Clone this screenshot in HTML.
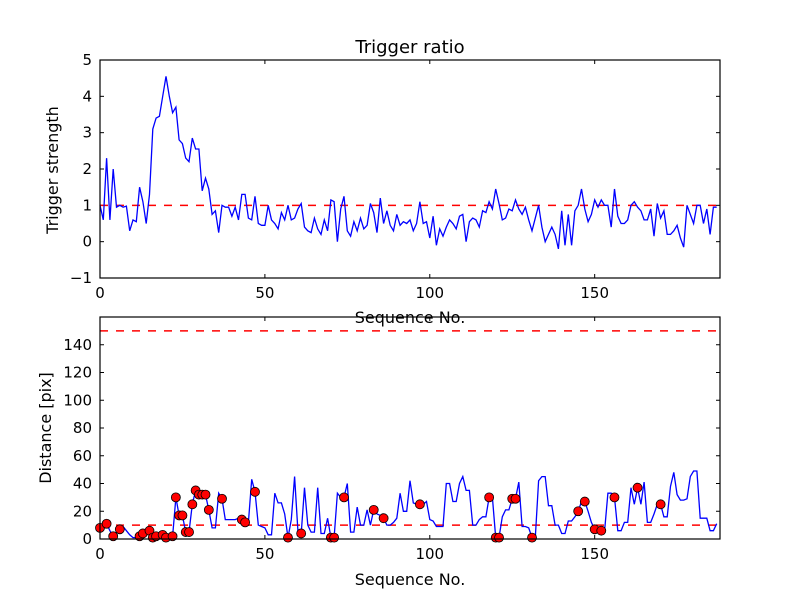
<!DOCTYPE html>
<html><head><meta charset="utf-8"><style>
body{margin:0;background:#fff}
svg{font-family:"DejaVu Sans","Liberation Sans",sans-serif}
</style></head><body>
<svg id="c" width="800" height="600" xmlns="http://www.w3.org/2000/svg"></svg>
<script>
const topValues=[1.0,0.6,2.3,0.6,2.0,0.95,1.0,0.95,0.98,0.3,0.6,0.55,1.5,1.1,0.5,1.3,3.1,3.4,3.45,4.0,4.55,4.0,3.55,3.7,2.8,2.7,2.3,2.2,2.85,2.55,2.55,1.4,1.75,1.45,0.75,0.85,0.25,1.0,0.95,0.95,0.7,0.95,0.6,1.3,1.3,0.65,0.6,1.25,0.5,0.45,0.45,1.0,0.6,0.5,0.35,0.8,0.6,1.0,0.6,0.65,0.9,1.05,0.4,0.3,0.25,0.65,0.35,0.2,0.6,0.3,1.15,1.1,0,0.9,1.25,0.3,0.15,0.55,0.3,0.65,0.35,0.45,1.05,0.8,0.25,1.2,0.5,0.85,0.45,0.3,0.75,0.45,0.55,0.5,0.6,0.3,0.5,1.1,0.5,0.55,0.1,0.7,-0.1,0.35,0.15,0.4,0.6,0.5,0.35,0.7,0.75,0,0.55,0.65,0.6,0.4,0.85,0.8,1.1,0.9,1.45,1.05,0.6,0.65,0.9,0.85,1.15,0.9,0.75,0.95,0.6,0.3,0.65,1.0,0.4,0,0.2,0.4,0.2,-0.2,0.85,-0.1,0.75,-0.1,0.85,1.0,1.45,0.9,0.55,0.75,1.15,0.95,1.15,1.0,1.0,0.4,1.45,0.7,0.5,0.5,0.6,1.0,1.1,0.95,0.85,0.6,0.6,0.9,0.15,1.05,0.65,0.85,0.2,0.2,0.3,0.45,0.1,-0.15,1.0,0.75,0.5,1.0,1.0,0.5,0.9,0.2,0.95,0.95];
const bottomValues=[8,8,11,6,2,5,7,9,6,3,1,1,2,4,3,6,1,2,1,3,1,1,2,30,17,17,5,5,25,35,32,32,32,21,8,8,33,29,14,14,14,14,15,14,12,12,43,34,10,9,8,3,3,33,26,26,18,1,14,45,6,4,37,10,5,5,37,4,4,15,1,1,33,30,30,40,5,5,23,10,10,21,10,21,18,17,15,10,10,12,15,33,20,20,42,26,25,25,25,27,14,13,9,9,9,40,40,27,27,40,45,35,35,10,10,14,16,16,30,30,1,1,16,21,21,29,29,41,9,9,8,1,1,42,45,45,24,24,10,10,4,4,13,13,16,20,27,27,20,12,7,6,6,6,33,33,30,6,6,12,12,37,25,37,25,41,12,12,18,25,25,16,16,38,48,32,28,28,29,45,49,49,15,15,15,6,6,11];
const markerIdx=[0,2,4,6,12,13,15,16,17,19,20,22,23,24,25,26,27,28,29,30,31,32,33,37,43,44,47,57,61,70,71,74,83,86,97,118,120,121,125,126,131,145,147,150,152,156,163,170];
const topTicksY=[-1,0,1,2,3,4,5];
const botTicksY=[0,20,40,60,80,100,120,140];
const ticksX=[0,50,100,150];
const thresholdTop=1, thresholdLow=10, thresholdHigh=150;

const NS='http://www.w3.org/2000/svg';
const svg=document.getElementById('c');
function el(t,a,p){const e=document.createElementNS(NS,t);for(const k in a)e.setAttribute(k,a[k]);(p||svg).appendChild(e);return e;}
const L=100,R=720,XMAX=188;
const sx=v=>L+v*(R-L)/XMAX;
const T1=60,B1=278,ty=v=>B1-(v+1)*(B1-T1)/6;
const T2=317,B2=539,by=v=>B2-v*(B2-T2)/160;

function axes(T,B,ticksY,fy,name){
  const g=el('g',{});
  
  
  ticksX.forEach(t=>{const x=sx(t);
    el('line',{x1:x,x2:x,y1:B,y2:B-4,stroke:'#000'},g);el('line',{x1:x,x2:x,y1:T,y2:T+4,stroke:'#000'},g);
    const tx=el('text',{x:x,y:B+20,'font-size':15,'text-anchor':'middle'},g);tx.textContent=t;
    
    });
  ticksY.forEach(t=>{const y=fy(t);
    el('line',{x1:L,x2:L+4,y1:y,y2:y,stroke:'#000'},g);el('line',{x1:R,x2:R-4,y1:y,y2:y,stroke:'#000'},g);
    const tx=el('text',{x:L-8,y:y+5,'font-size':15,'text-anchor':'end'},g);tx.textContent=(t<0?'\u2212'+(-t):t);
    
    });
  return g;
}
function line(vals,fy,name){
  const d=vals.map((v,i)=>(i?'L':'M')+sx(i).toFixed(1)+','+fy(v).toFixed(1)).join('');
  const p=el('path',{d:d,fill:'none',stroke:'#0000ff','stroke-width':1.3});
  
  
}
function hline(v,fy,name){
  const l=el('line',{x1:L,x2:R,y1:fy(v),y2:fy(v),stroke:'#ff0000','stroke-width':1.5,'stroke-dasharray':'8,8'});
  
  
}
// top
axes(T1,B1,topTicksY,ty,'top-axes');
hline(thresholdTop,ty,'top-threshold-line');
line(topValues,ty,'trigger-strength-line');
el('rect',{x:L,y:T1,width:R-L,height:B1-T1,fill:'none',stroke:'#000','stroke-width':1.2});
// bottom
axes(T2,B2,botTicksY,by,'bottom-axes');
hline(thresholdHigh,by,'upper-threshold-line');
hline(thresholdLow,by,'lower-threshold-line');
line(bottomValues,by,'distance-line');
markerIdx.forEach(i=>{const c=el('circle',{cx:sx(i),cy:by(bottomValues[i]),r:4.5,fill:'#ff0000',stroke:'#000','stroke-width':0.8});
  
  });
el('rect',{x:L,y:T2,width:R-L,height:B2-T2,fill:'none',stroke:'#000','stroke-width':1.2});
function text(x,y,s,str,name,rot){const t=el('text',{x:x,y:y,'font-size':s,'text-anchor':'middle'});t.textContent=str;
  if(rot)t.setAttribute('transform','rotate(-90 '+x+' '+y+')');
  
  }
text(410,53,18,'Trigger ratio','chart-title');
text(58,170,16,'Trigger strength','top-y-axis-title',true);
text(410,323,16,'Sequence No.','top-x-axis-title');
text(51,428,16,'Distance [pix]','bottom-y-axis-title',true);
text(410,585,16,'Sequence No.','bottom-x-axis-title');
</script>
</body></html>
